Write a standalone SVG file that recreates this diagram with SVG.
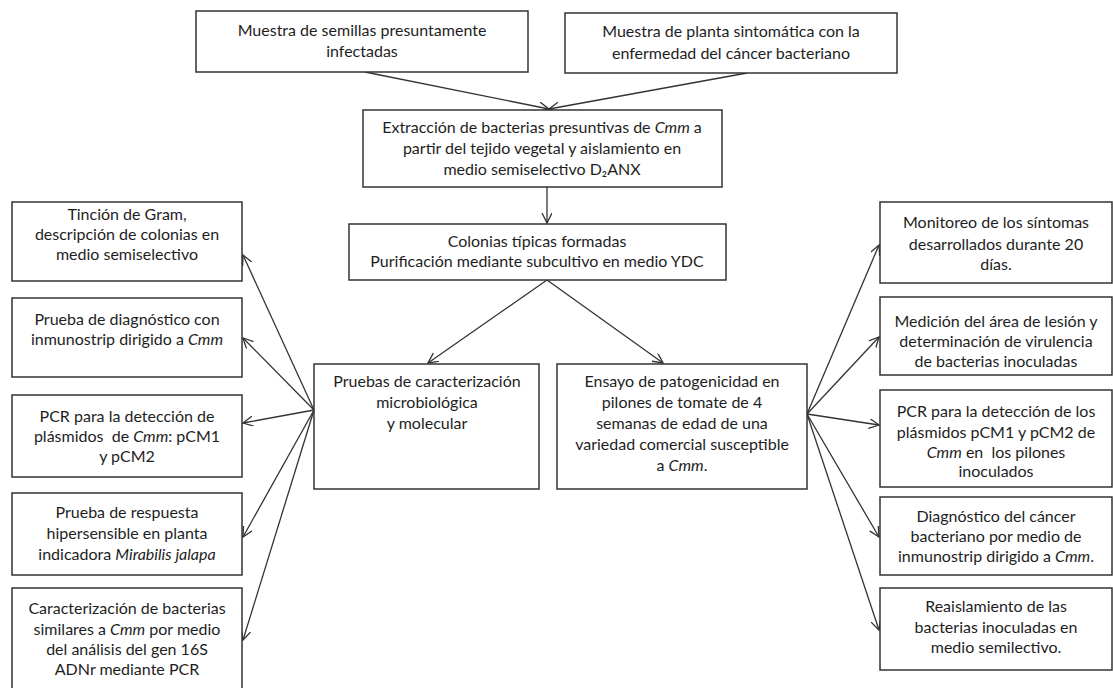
<svg xmlns="http://www.w3.org/2000/svg" width="1113" height="688" viewBox="0 0 1113 688">
<defs>
<style>
.box{fill:#fff;stroke:#333;stroke-width:1.5}
.t{font-family:Lato,"Liberation Sans",sans-serif;font-size:16px;fill:#1e1e1e;text-anchor:middle}
.i{font-style:italic}
.c{fill:none;stroke:#333;stroke-width:1.3}
</style>
<marker id="ah" markerWidth="12" markerHeight="12" refX="10" refY="5" orient="auto" markerUnits="userSpaceOnUse">
<path d="M0,0 L10,5 L0,10" fill="none" stroke="#333" stroke-width="1.3"/>
</marker>
</defs>
<rect width="1113" height="688" fill="#fff"/>
<g id="connectors">
<line class="c" x1="365" y1="72" x2="549" y2="109" marker-end="url(#ah)"/>
<line class="c" x1="747" y1="73" x2="549" y2="109" marker-end="url(#ah)"/>
<line class="c" x1="547" y1="187" x2="547" y2="223" marker-end="url(#ah)"/>
<line class="c" x1="547" y1="280" x2="428" y2="363" marker-end="url(#ah)"/>
<line class="c" x1="547" y1="280" x2="663" y2="363" marker-end="url(#ah)"/>
<line class="c" x1="314" y1="410" x2="243" y2="255" marker-end="url(#ah)"/>
<line class="c" x1="314" y1="410" x2="243" y2="338" marker-end="url(#ah)"/>
<line class="c" x1="314" y1="410" x2="243" y2="423" marker-end="url(#ah)"/>
<line class="c" x1="314" y1="410" x2="243" y2="537" marker-end="url(#ah)"/>
<line class="c" x1="314" y1="410" x2="243" y2="640" marker-end="url(#ah)"/>
<line class="c" x1="807" y1="414" x2="879" y2="245" marker-end="url(#ah)"/>
<line class="c" x1="807" y1="414" x2="879" y2="337" marker-end="url(#ah)"/>
<line class="c" x1="807" y1="414" x2="879" y2="425" marker-end="url(#ah)"/>
<line class="c" x1="807" y1="414" x2="879" y2="537" marker-end="url(#ah)"/>
<line class="c" x1="807" y1="414" x2="879" y2="630" marker-end="url(#ah)"/>
</g>
<g id="semillas">
<rect class="box" x="196" y="11" width="332" height="61"/>
<text class="t" x="362" y="36">Muestra de semillas presuntamente</text>
<text class="t" x="362" y="57">infectadas</text>
</g>
<g id="planta">
<rect class="box" x="565" y="13" width="332" height="60"/>
<text class="t" x="731" y="37">Muestra de planta sintomática con la</text>
<text class="t" x="731" y="59">enfermedad del cáncer bacteriano</text>
</g>
<g id="extraccion">
<rect class="box" x="363" y="110" width="359" height="77"/>
<text class="t" x="542" y="133">Extracción de bacterias presuntivas de <tspan class="i">Cmm</tspan> a</text>
<text class="t" x="542" y="154">partir del tejido vegetal y aislamiento en</text>
<text class="t" x="542" y="175">medio semiselectivo D₂ANX</text>
</g>
<g id="colonias">
<rect class="box" x="349" y="224" width="377" height="56"/>
<text class="t" x="537" y="247">Colonias típicas formadas</text>
<text class="t" x="537" y="267">Purificación mediante subcultivo en medio YDC</text>
</g>
<g id="pruebas">
<rect class="box" x="314" y="364" width="225" height="125"/>
<text class="t" x="427" y="387">Pruebas de caracterización</text>
<text class="t" x="427" y="408">microbiológica</text>
<text class="t" x="427" y="429">y molecular</text>
</g>
<g id="ensayo">
<rect class="box" x="557" y="364" width="250" height="125"/>
<text class="t" x="682" y="387">Ensayo de patogenicidad en</text>
<text class="t" x="682" y="408">pilones de tomate de 4</text>
<text class="t" x="682" y="429">semanas de edad de una</text>
<text class="t" x="682" y="450">variedad comercial susceptible</text>
<text class="t" x="682" y="471">a <tspan class="i">Cmm</tspan>.</text>
</g>
<g id="tincion">
<rect class="box" x="12" y="202" width="230" height="79"/>
<text class="t" x="127" y="220">Tinción de Gram,</text>
<text class="t" x="127" y="240">descripción de colonias en</text>
<text class="t" x="127" y="260">medio semiselectivo</text>
</g>
<g id="inmunostrip">
<rect class="box" x="12" y="298" width="230" height="79"/>
<text class="t" x="127" y="325">Prueba de diagnóstico con</text>
<text class="t" x="127" y="345">inmunostrip dirigido a <tspan class="i">Cmm</tspan></text>
</g>
<g id="pcr-left">
<rect class="box" x="12" y="395" width="230" height="82"/>
<text class="t" x="127" y="422">PCR para la detección de</text>
<text class="t" x="127" y="442">plásmidos&#160; de <tspan class="i">Cmm</tspan>: pCM1</text>
<text class="t" x="127" y="462">y pCM2</text>
</g>
<g id="hipersensible">
<rect class="box" x="12" y="493" width="230" height="82"/>
<text class="t" x="127" y="518">Prueba de respuesta</text>
<text class="t" x="127" y="539">hipersensible en planta</text>
<text class="t" x="127" y="560">indicadora <tspan class="i">Mirabilis jalapa</tspan></text>
</g>
<g id="caracterizacion">
<rect class="box" x="12" y="588" width="230" height="102"/>
<text class="t" x="127" y="614">Caracterización de bacterias</text>
<text class="t" x="127" y="635">similares a <tspan class="i">Cmm</tspan> por medio</text>
<text class="t" x="127" y="655">del análisis del gen 16S</text>
<text class="t" x="127" y="675">ADNr mediante PCR</text>
</g>
<g id="monitoreo">
<rect class="box" x="880" y="202" width="232" height="81"/>
<text class="t" x="996" y="228">Monitoreo de los síntomas</text>
<text class="t" x="996" y="250">desarrollados durante 20</text>
<text class="t" x="996" y="270">días.</text>
</g>
<g id="medicion">
<rect class="box" x="880" y="297" width="232" height="78"/>
<text class="t" x="996" y="327">Medición del área de lesión y</text>
<text class="t" x="996" y="347">determinación de virulencia</text>
<text class="t" x="996" y="367">de bacterias inoculadas</text>
</g>
<g id="pcr-right">
<rect class="box" x="880" y="390" width="232" height="97"/>
<text class="t" x="996" y="417">PCR para la detección de los</text>
<text class="t" x="996" y="438">plásmidos pCM1 y pCM2 de</text>
<text class="t" x="996" y="458"><tspan class="i">Cmm</tspan> en&#160; los pilones</text>
<text class="t" x="996" y="477">inoculados</text>
</g>
<g id="diagnostico">
<rect class="box" x="880" y="497" width="232" height="78"/>
<text class="t" x="996" y="522">Diagnóstico del cáncer</text>
<text class="t" x="996" y="542">bacteriano por medio de</text>
<text class="t" x="996" y="562">inmunostrip dirigido a <tspan class="i">Cmm</tspan>.</text>
</g>
<g id="reaislamiento">
<rect class="box" x="880" y="588" width="232" height="82"/>
<text class="t" x="996" y="612">Reaislamiento de las</text>
<text class="t" x="996" y="633">bacterias inoculadas en</text>
<text class="t" x="996" y="653">medio semilectivo.</text>
</g>
</svg>
